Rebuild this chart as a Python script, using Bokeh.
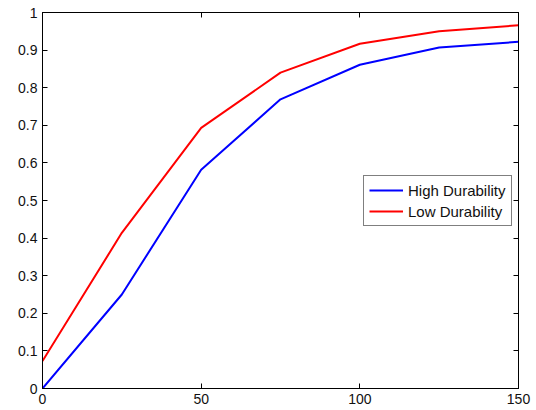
from bokeh.plotting import figure
from bokeh.models import LinearAxis, FixedTicker, Legend, LegendItem, Range1d
from bokeh.embed import file_html
from bokeh.resources import INLINE

x = [0, 25, 50, 75, 100, 125, 150]
high = [0.0, 0.25, 0.582, 0.769, 0.861, 0.907, 0.922]
low = [0.073, 0.414, 0.693, 0.840, 0.917, 0.950, 0.966]
xticks = [0, 50, 100, 150]
yticks = [0, 0.1, 0.2, 0.3, 0.4, 0.5, 0.6, 0.7, 0.8, 0.9, 1.0]
ytick_labels = ["0", "0.1", "0.2", "0.3", "0.4", "0.5", "0.6", "0.7", "0.8", "0.9", "1"]

FONT = "Liberation Sans"

p = figure(width=536, height=410, output_backend="svg", toolbar_location=None,
           x_range=Range1d(0, 150), y_range=Range1d(0, 1),
           min_border_left=42, min_border_right=18, min_border_top=12, min_border_bottom=22,
           x_axis_location=None, y_axis_location=None)
p.grid.visible = False
p.outline_line_color = "black"
p.outline_line_width = 1
p.background_fill_color = "white"
p.border_fill_color = "white"

def style_axis(ax, ticks, labels=None, show=True, standoff=4):
    ax.ticker = FixedTicker(ticks=ticks)
    ax.minor_tick_line_color = None
    ax.major_tick_in = 5
    ax.major_tick_out = 0
    ax.major_tick_line_color = "black"
    ax.axis_line_color = "black"
    ax.major_label_text_font = FONT
    ax.major_label_text_font_size = "14px"
    ax.major_label_text_color = "#111111"
    ax.major_label_standoff = standoff if show else 0
    if not show:
        ax.major_label_overrides = {t: "" for t in ticks}
    elif labels is not None:
        ax.major_label_overrides = {t: l for t, l in zip(ticks, labels)}

xb = LinearAxis(); style_axis(xb, xticks, standoff=5)
yl = LinearAxis(); style_axis(yl, yticks, ytick_labels, standoff=5)
xa = LinearAxis(); style_axis(xa, xticks, show=False)
yr = LinearAxis(); style_axis(yr, yticks, show=False)
p.add_layout(xb, "below")
p.add_layout(yl, "left")
p.add_layout(xa, "above")
p.add_layout(yr, "right")

r1 = p.line(x, high, line_color="#0000ff", line_width=2)
r2 = p.line(x, low, line_color="#ff0000", line_width=2)

legend = Legend(items=[LegendItem(label="High Durability", renderers=[r1]),
                       LegendItem(label="Low Durability", renderers=[r2])],
                location=(321, 162), border_line_color="black", border_line_width=1,
                label_text_font=FONT, label_text_font_size="15px",
                label_text_color="#111111",
                glyph_width=34, glyph_height=18, label_height=18, spacing=3,
                padding=5, margin=0, label_standoff=5, background_fill_alpha=1)
p.add_layout(legend, "center")

open("out.html", "w").write(file_html(p, INLINE))
